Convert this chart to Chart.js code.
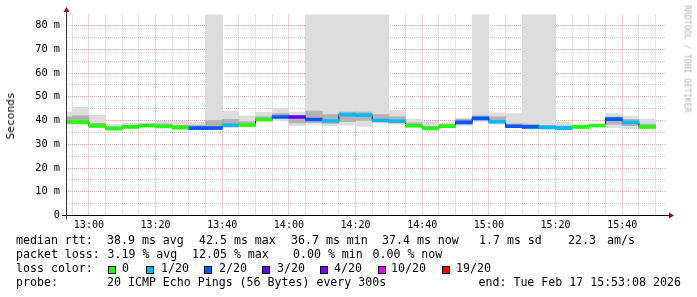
<!DOCTYPE html>
<html><head><meta charset="utf-8">
<script src="https://cdn.jsdelivr.net/npm/chart.js@4"></script>
<style>
html,body{margin:0;padding:0;background:#fff;}
#wrap{position:relative;width:697px;height:297px;overflow:hidden;background:#fff;font-family:'DejaVu Sans Mono',monospace;color:#000;}
canvas{position:absolute;left:0;top:0;}
.t{position:absolute;white-space:pre;font-size:11.6px;line-height:14px;}
.box{position:absolute;width:6px;height:6px;border:1px solid #000;}
#ylab{position:absolute;left:11px;top:116px;font-size:11.2px;line-height:12px;white-space:pre;transform:translate(-50%,-50%) rotate(-90deg);}
#wm{position:absolute;left:687px;top:59px;font-size:8.1px;line-height:9px;white-space:pre;color:#b4b4b4;transform:translate(-50%,-50%) rotate(90deg);}
</style></head><body>
<div id="wrap">
<canvas id="c" width="697" height="297"></canvas>
<div id="ylab">Seconds</div>
<div id="wm">RRDTOOL / TOBI OETIKER</div>
</div>
<script>
// ---- data ----
const bucketTimes = ['12:50','12:55','13:00','13:05','13:10','13:15','13:20','13:25','13:30','13:35','13:40','13:45',
  '13:50','13:55','14:00','14:05','14:10','14:15','14:20','14:25','14:30','14:35','14:40','14:45',
  '14:50','14:55','15:00','15:05','15:10','15:15','15:20','15:25','15:30','15:35','15:40','15:45'];
const medianMs = [39.5,39.3,37.7,36.7,37.3,37.9,37.5,37.0,36.8,36.8,38.0,38.1,
  40.4,41.5,41.5,40.4,39.8,42.5,42.2,40.0,39.7,37.8,36.7,37.6,
  39.2,40.9,39.5,37.6,37.3,37.1,36.8,37.3,37.9,40.6,39.2,37.3];
const lossIndex = [0,0,0,0,0,0,0,0,2,2,1,0,
  0,2,3,2,1,1,1,1,1,0,0,0,
  2,2,1,2,2,1,1,0,0,2,1,0];
const smokeMax = [43.5,45.5,42.2,38.3,38.8,39.0,39.8,39.6,39.2,88,43.9,42.0,
  43.4,45.0,43.5,88,88,88,88,88,44.3,40.6,39.5,39.0,
  41.0,88,43.2,42.9,88,88,39.2,37.8,38.5,42.9,41.9,40.6];
const smokeHigh = [41.5,42.0,38.8,37.3,37.9,38.5,38.6,38.0,38.0,40.0,40.5,39.5,
  41.6,43.0,42.0,44.0,42.5,43.5,43.5,42.5,41.5,39.0,37.5,38.3,
  40.5,42.0,41.5,38.6,38.5,38.0,37.8,37.6,38.2,41.5,40.5,38.5];
const smokeLow = [38.8,38.8,37.3,36.3,37.0,37.5,37.2,36.7,36.5,36.6,37.6,37.8,
  40.0,41.0,39.0,39.2,38.8,39.5,40.0,39.5,39.0,37.5,36.5,37.3,
  38.6,40.3,39.0,37.3,37.0,36.9,36.7,37.1,37.7,38.5,37.8,37.0];
const smokeMin = [38.3,38.4,37.0,35.8,36.8,37.2,37.0,36.5,36.4,36.4,37.0,37.3,
  39.5,40.0,37.8,38.5,37.8,38.0,37.5,39.0,38.5,37.2,36.2,37.0,
  37.9,39.5,38.5,37.0,36.8,36.6,36.5,37.0,37.5,37.0,36.6,36.5];
const lossLabels = ['0','1/20','2/20','3/20','4/20','10/20','19/20'];
const lossColors = ['#26ff00','#00b8ff','#0059ff','#5e00ff','#7e00ff','#dd00ff','#ff0000'];
const xTickLabels = ['13:00','13:20','13:40','14:00','14:20','14:40','15:00','15:20','15:40'];
const yTickValues = [0,10,20,30,40,50,60,70,80];
const yTickLabels = ['0','10 m','20 m','30 m','40 m','50 m','60 m','70 m','80 m'];
const endTime = '15:53:08';
const rangeMinutes = 180;
const stepMinutes = 5;
const yMax = 84.6;

// ---- helpers ----
const toMin = s => { const p = s.split(':').map(Number); return p[0]*60 + p[1] + (p[2]||0)/60; };
const X_END = toMin(endTime), X_START = X_END - rangeMinutes;
const starts = bucketTimes.map(toMin);
const MH = 0.62; // half height of the median band (ms)

const gridX = [];
for (let v = Math.ceil(X_START/stepMinutes)*stepMinutes; v <= X_END; v += stepMinutes) gridX.push(v);
const gridY = [];
for (let v = 0; v <= 80; v += 5) gridY.push(v);
const xLabelMap = {}; xTickLabels.forEach(l => xLabelMap[toMin(l)] = l);
const yLabelMap = {}; yTickValues.forEach((v,i) => yLabelMap[v] = yTickLabels[i]);

const RED = 'rgba(222,60,60,0.45)', GRAY = 'rgba(150,150,150,0.5)';

const barDs = (lo, hi, color, order) => ({
  type: 'bar', order, clip: 0, grouped: false, borderWidth: 0,
  barPercentage: 1, categoryPercentage: 1,
  backgroundColor: color,
  data: starts.map((s,i) => ({x: s + stepMinutes/2, y: [lo[i], hi[i]]}))
});

const lineData = starts.map((s,i) => ({x: s, y: medianMs[i]}));
lineData.push({x: starts[starts.length-1] + stepMinutes, y: medianMs[medianMs.length-1]});

const axesPlugin = {
  id: 'rrdAxes',
  afterDatasetsDraw(chart) {
    const {ctx, chartArea: a} = chart;
    ctx.save();
    ctx.lineWidth = 1;
    ctx.strokeStyle = '#000';
    ctx.beginPath();
    ctx.moveTo(a.left - 4, a.bottom); ctx.lineTo(a.right + 4, a.bottom);
    ctx.stroke();
    ctx.strokeStyle = '#333';
    ctx.beginPath();
    ctx.moveTo(a.left + 0.5, a.bottom + 4); ctx.lineTo(a.left + 0.5, a.top - 4);
    ctx.stroke();
    ctx.fillStyle = '#a01010';
    ctx.beginPath();
    ctx.moveTo(a.right + 3, a.bottom - 3); ctx.lineTo(a.right + 8, a.bottom); ctx.lineTo(a.right + 3, a.bottom + 3);
    ctx.closePath(); ctx.fill();
    ctx.beginPath();
    ctx.moveTo(a.left - 2.5, a.top - 2.5); ctx.lineTo(a.left + 0.5, a.top - 7.5); ctx.lineTo(a.left + 3.5, a.top - 2.5);
    ctx.closePath(); ctx.fill();
    ctx.restore();
  }
};

const medLo = medianMs.map(v => v - MH), medHi = medianMs.map(v => v + MH);

new Chart(document.getElementById('c').getContext('2d'), {
  type: 'bar',
  data: {
    datasets: [
      barDs(medLo, medHi, lossIndex.map(i => lossColors[i]), 1),
      { type: 'line', order: 2, clip: 0, data: lineData, stepped: true, borderColor: '#202020', borderWidth: 1, pointRadius: 0, fill: false },
      barDs(smokeLow, smokeHigh, '#b2b2b2', 4),
      barDs(smokeMin, smokeMax, '#dddddd', 5)
    ]
  },
  options: {
    responsive: false, animation: false, devicePixelRatio: 1,
    layout: { padding: { left: 0, right: 31, top: 14.6, bottom: 0 } },
    plugins: { legend: { display: false }, tooltip: { enabled: false } },
    scales: {
      x: {
        type: 'linear', min: X_START, max: X_END, offset: false,
        afterFit: s => { s.height = 81.5; s.paddingLeft = 0; s.paddingRight = 0; },
        afterBuildTicks: s => { s.ticks = gridX.map(v => ({value: v})); },
        ticks: { autoSkip: false, maxRotation: 0, padding: 4, color: '#000',
          font: { family: 'DejaVu Sans Mono', size: 10 },
          callback: v => xLabelMap[v] !== undefined ? xLabelMap[v] : '' },
        grid: { offset: false, drawTicks: false, lineWidth: 1, color: c => (c.tick && xLabelMap[c.tick.value] !== undefined) ? RED : GRAY },
        border: { display: false, dash: [1, 1] }
      },
      y: {
        type: 'linear', min: 0, max: yMax,
        afterFit: s => { s.width = 66; },
        afterBuildTicks: s => { s.ticks = gridY.map(v => ({value: v})); },
        ticks: { autoSkip: false, padding: 6, color: '#000',
          font: { family: 'DejaVu Sans Mono', size: 10.3 },
          callback: v => yLabelMap[v] !== undefined ? yLabelMap[v] : '' },
        grid: { drawTicks: false, lineWidth: 1, color: c => (c.tick && c.tick.value % 10 === 0) ? RED : GRAY },
        border: { display: false, dash: [1, 1] }
      }
    }
  },
  plugins: [axesPlugin]
});

// ---- legend text ----
const wrap = document.getElementById('wrap');
function txt(s, x, top) { const d = document.createElement('div'); d.className = 't'; d.textContent = s; d.style.left = x + 'px'; d.style.top = top + 'px'; wrap.appendChild(d); }
const rowTop = [233, 247, 261, 275];
[['median rtt:',16],['38.9 ms avg',107],['42.5 ms max',199],['36.7 ms min',291],['37.4 ms now',382],['1.7 ms sd',479],['22.3',568],['am/s',607]]
  .forEach(p => txt(p[0], p[1], rowTop[0]));
[['packet loss:',16],['3.19 % avg',107.5],['12.05 % max',192],['0.00 % min',293],['0.00 % now',372.5]]
  .forEach(p => txt(p[0], p[1], rowTop[1]));
txt('loss color:', 16, rowTop[2]);
const boxX = [108,146,204,262,320,378,442], labX = [122,161,219,277,334,391,456];
lossLabels.forEach((l, i) => {
  const b = document.createElement('div'); b.className = 'box'; b.style.left = boxX[i] + 'px'; b.style.top = '266px'; b.style.background = lossColors[i]; wrap.appendChild(b);
  txt(l, labX[i], rowTop[2]);
});
[['probe:',16],['20 ICMP Echo Pings (56 Bytes) every 300s',107],['end: Tue Feb 17 15:53:08 2026',478.5]]
  .forEach(p => txt(p[0], p[1], rowTop[3]));
</script>
</body></html>
